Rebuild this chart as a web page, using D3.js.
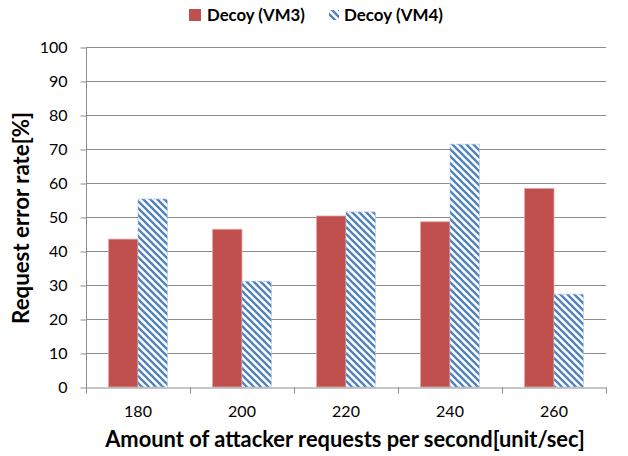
<!DOCTYPE html>
<html><head><meta charset="utf-8">
<script src="https://cdn.jsdelivr.net/npm/d3@7/dist/d3.min.js"></script>
<style>body{margin:0;background:#fff}svg{display:block}text{font-family:Lato,"Open Sans",sans-serif}</style>
</head><body><svg id="c" width="628" height="456"></svg>
<script>
const categories = ["180","200","220","240","260"];
const seriesNames = ["Decoy (VM3)","Decoy (VM4)"];
const vm3 = [43.5, 46.4, 50.3, 48.6, 58.4];
const vm4 = [55.3, 31.1, 51.5, 71.4, 27.3];
const yTicks = [0,10,20,30,40,50,60,70,80,90,100];
const xTitle = "Amount of attacker requests per second[unit/sec]";
const yTitle = "Request error rate[%]";

const svg = d3.select("#c");
const L = 86, R = 606, T = 47, B = 387;
const red = "#C0504D", blue = "#4F81BD";

const defs = svg.append("defs");
const P = 7;
const pat = defs.append("pattern").attr("id","hatch").attr("patternUnits","userSpaceOnUse")
  .attr("width",P).attr("height",P);
pat.append("rect").attr("width",P).attr("height",P).attr("fill","#fff");
pat.append("path").attr("d",`M-1,-1 L${P+1},${P+1} M-1,${P-1} L1,${P+1} M${P-1},-1 L${P+1},1`)
  .attr("stroke",blue).attr("stroke-width",2.3).attr("fill","none");

const x = d3.scaleBand().domain(categories).range([L, R]).paddingInner(0.434).paddingOuter(0.217);
const xs = d3.scaleBand().domain(seriesNames).range([0, x.bandwidth()]);
const y = d3.scaleLinear().domain([0,100]).range([B, T]);

// gridlines
svg.append("g").selectAll("line").data(yTicks.filter(d=>d>0)).join("line")
  .attr("x1",L).attr("x2",R).attr("y1",d=>y(d)+0.5).attr("y2",d=>y(d)+0.5)
  .attr("stroke","#8c8c8c").attr("stroke-width",1);

// bars
const g = svg.append("g");
categories.forEach((c,i)=>{
  g.append("rect").attr("x",x(c)+xs(seriesNames[0])).attr("y",y(vm3[i]))
    .attr("width",xs.bandwidth()).attr("height",B-y(vm3[i]))
    .attr("fill",red).attr("stroke","#e2a8a7").attr("stroke-width",0.8);
  g.append("rect").attr("x",x(c)+xs(seriesNames[1])).attr("y",y(vm4[i]))
    .attr("width",xs.bandwidth()).attr("height",B-y(vm4[i]))
    .attr("fill","url(#hatch)").attr("stroke","#a9c1e0").attr("stroke-width",0.8).attr("stroke-dasharray","2,1");
});

// y axis
const ya = svg.append("g").attr("transform",`translate(${L+0.5},0)`)
  .call(d3.axisLeft(y).tickValues(yTicks).tickSize(6).tickPadding(13));
ya.select(".domain").attr("stroke","#8c8c8c").attr("d",`M-0,${B+5}V${T}`);
ya.selectAll(".tick line").attr("stroke","#8c8c8c").attr("transform","translate(0,0.5)");
ya.selectAll("text").attr("font-size",16).attr("fill","#000").style("font-family","Lato").attr("dy","0.34em");

// x axis
const xa = svg.append("g").attr("transform",`translate(0,${B+0.5})`)
  .call(d3.axisBottom(x).tickSize(0).tickPadding(18));
xa.select(".domain").attr("stroke","#8c8c8c");
xa.selectAll("text").attr("font-size",16).attr("fill","#000").style("font-family","Lato");
// boundary ticks
const bounds = categories.map(c=>x(c)-x.step()*x.paddingInner()/2).concat([R]);
bounds[0]=L;
xa.append("g").selectAll("line").data(bounds).join("line")
  .attr("x1",d=>Math.round(d)+0.5).attr("x2",d=>Math.round(d)+0.5).attr("y1",0).attr("y2",6)
  .attr("stroke","#8c8c8c");

function fit(sel, w){ const n = sel.node(); const cur = n.getComputedTextLength(); const fs = +sel.attr("font-size"); sel.attr("font-size", fs*w/cur); }

// titles
const xt = svg.append("text").attr("x",345).attr("y",447).attr("text-anchor","middle")
  .attr("font-weight","bold").attr("font-size",20).text(xTitle);
fit(xt, 480);
const yt = svg.append("text").attr("transform","translate(29,218) rotate(-90)").attr("text-anchor","middle")
  .attr("font-weight","bold").attr("font-size",19).text(yTitle);
fit(yt, 212);

// legend
const lg = svg.append("g");
lg.append("rect").attr("x",189).attr("y",9).attr("width",12).attr("height",12).attr("fill",red);
const t1 = lg.append("text").attr("x",207).attr("y",21).attr("font-weight","bold").attr("font-size",16).text(seriesNames[0]);
fit(t1, 98);
lg.append("rect").attr("x",329).attr("y",10).attr("width",10).attr("height",10).attr("fill","url(#hatch)");
const t2 = lg.append("text").attr("x",344).attr("y",21).attr("font-weight","bold").attr("font-size",16).text(seriesNames[1]);
fit(t2, 99);
</script></body></html>
